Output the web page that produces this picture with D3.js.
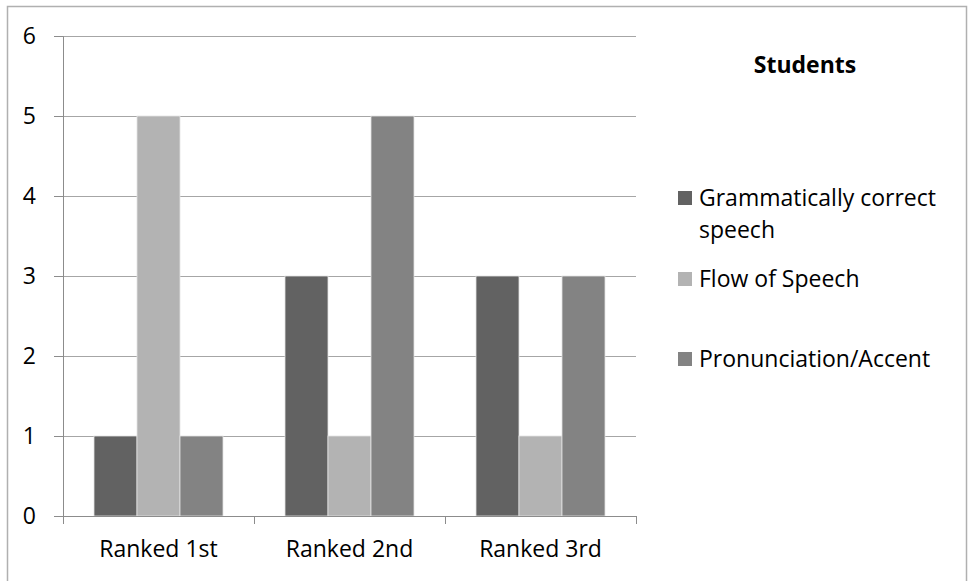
<!DOCTYPE html>
<html>
<head>
<meta charset="utf-8">
<script src="https://cdn.jsdelivr.net/npm/d3@7"></script>
<style>
  body { margin: 0; background: #fff; }
  text { font-family: "Open Sans", "Noto Sans", sans-serif; fill: #000; }
</style>
</head>
<body>
<div id="chart"></div>
<script>
// data
var categories = ["Ranked 1st", "Ranked 2nd", "Ranked 3rd"];
var seriesNames = ["Grammatically correct speech", "Flow of Speech", "Pronunciation/Accent"];
var legendLines = [["Grammatically correct", "speech"], ["Flow of Speech"], ["Pronunciation/Accent"]];
var grammar = [1, 3, 3];
var flow = [5, 1, 1];
var pronunciation = [1, 5, 3];
var yTicks = [0, 1, 2, 3, 4, 5, 6];
var colors = ["#626262", "#b3b3b3", "#838383"];

var W = 969, H = 581;
var margin = {top: 36, left: 63},
    width = 636 - 63,
    height = 516 - 36;

var svg = d3.select("#chart").append("svg")
    .attr("width", W)
    .attr("height", H);

// outer chart border
svg.append("rect")
    .attr("x", 7.5).attr("y", 6.5)
    .attr("width", 959).attr("height", 600)
    .attr("fill", "none")
    .attr("stroke", "#b0b0b0")
    .attr("stroke-width", 1.5);

var g = svg.append("g")
    .attr("transform", "translate(" + margin.left + "," + margin.top + ")");

var x0 = d3.scaleBand().domain(categories).range([0, width]);
var x1 = d3.scaleBand().domain(d3.range(3)).range([31, x0.bandwidth() - 31]);
var y = d3.scaleLinear().domain([0, 6]).range([height, 0]);

// gridlines
g.append("g").selectAll("line")
  .data(yTicks.slice(1))
  .enter().append("line")
    .attr("x1", 0).attr("x2", width)
    .attr("y1", function(d) { return Math.round(y(d)) + 0.5; })
    .attr("y2", function(d) { return Math.round(y(d)) + 0.5; })
    .attr("stroke", "#a6a6a6");

// bars
var values = [grammar, flow, pronunciation];
values.forEach(function(vals, s) {
  g.append("g").selectAll("rect")
    .data(vals)
    .enter().append("rect")
      .attr("x", function(d, i) { return x0(categories[i]) + x1(s); })
      .attr("y", function(d) { return y(d); })
      .attr("width", x1.bandwidth())
      .attr("height", function(d) { return height - y(d); })
      .attr("fill", colors[s])
      .attr("stroke", "#e4e4e4")
      .attr("stroke-width", 0.8);
});

// y axis
var yAxis = g.append("g")
    .call(d3.axisLeft(y).tickValues(yTicks).tickSize(9).tickPadding(18).tickFormat(d3.format("d")));
yAxis.select(".domain").attr("stroke", "#8c8c8c");
yAxis.selectAll(".tick line").attr("stroke", "#8c8c8c");
yAxis.selectAll(".tick text").style("font-size", "23px").attr("fill", "#000");

// x axis
var xAxis = g.append("g")
    .attr("transform", "translate(0," + height + ")")
    .call(d3.axisBottom(x0).tickSize(0).tickPadding(25));
xAxis.select(".domain").attr("stroke", "#8c8c8c");
xAxis.selectAll(".tick text").style("font-size", "23px").attr("fill", "#000");
// category boundary ticks
xAxis.append("g").selectAll("line")
  .data(d3.range(categories.length + 1))
  .enter().append("line")
    .attr("x1", function(i) { return i * x0.bandwidth() + 0.5; })
    .attr("x2", function(i) { return i * x0.bandwidth() + 0.5; })
    .attr("y1", 0).attr("y2", 8)
    .attr("stroke", "#8c8c8c");

// legend
svg.append("text")
    .attr("x", 805).attr("y", 73)
    .attr("text-anchor", "middle")
    .style("font-size", "23px")
    .style("font-weight", "bold")
    .text("Students");

var legendY = [198, 279, 359];
legendLines.forEach(function(lines, i) {
  var lg = svg.append("g").attr("transform", "translate(678," + legendY[i] + ")");
  lg.append("rect")
    .attr("x", 0).attr("y", -7)
    .attr("width", 14).attr("height", 14)
    .attr("fill", colors[i]);
  lines.forEach(function(t, k) {
    lg.append("text")
      .attr("x", 21).attr("y", 8 + k * 32)
      .style("font-size", "23px")
      .text(t);
  });
});
</script>
</body>
</html>
